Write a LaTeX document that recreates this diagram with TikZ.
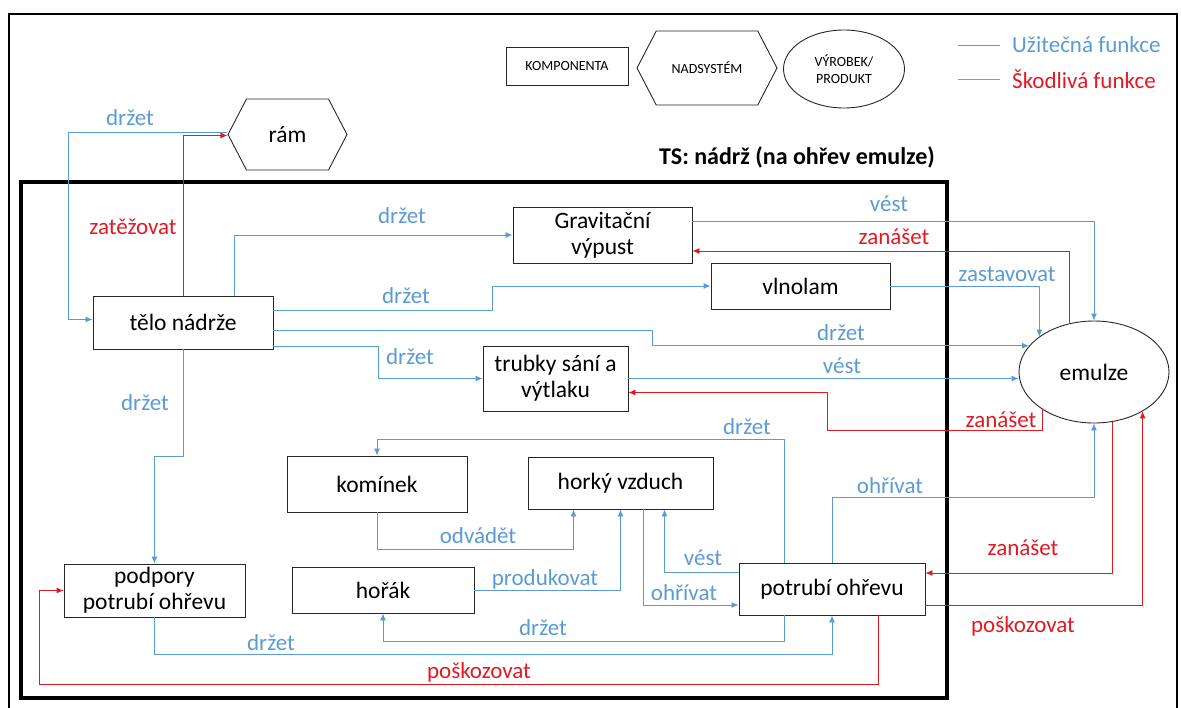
\documentclass[tikz,border=0pt]{standalone}
\usepackage{fontspec}
\setmainfont{Carlito}
\usepackage{tikz}
\usetikzlibrary{arrows.meta,shapes.geometric,shapes.symbols}
\definecolor{ufblue}{RGB}{91,155,213}
\definecolor{sfred}{RGB}{225,25,35}
\definecolor{lgorange}{RGB}{237,125,49}
\newcommand{\boxfont}{\fontsize{23.5}{26}\selectfont}
\newcommand{\lblfont}{\fontsize{23}{26}\selectfont}
\newcommand{\smallfont}{\fontsize{14}{17}\selectfont}

\begin{document}
\begin{tikzpicture}[x=1pt,y=-1pt,
  comp/.style={draw=black!85, line width=.9pt, rectangle, align=center, font=\boxfont, inner sep=0pt},
  nads/.style={draw=black!85, line width=.9pt, shape=signal, signal to=west and east, signal pointer angle=125, inner sep=0pt},
  prod/.style={draw=black!85, line width=.9pt, ellipse, align=center, inner sep=0pt},
  uf/.style={draw=ufblue, line width=.9pt, -{Latex[length=7pt,width=6pt]}},
  sf/.style={draw=sfred, line width=.9pt, -{Latex[length=7pt,width=6pt]}},
  ufl/.style={text=ufblue, font=\lblfont, inner sep=0pt},
  sfl/.style={text=sfred, font=\lblfont, inner sep=0pt}]
\useasboundingbox (0,0) rectangle (1181,707);

% frames
\draw[line width=1.4pt] (9,710) -- (9,14) -- (1177,14) -- (1177,710);
\draw[line width=3.5pt] (21,182) rectangle (947,698);

% legend
\node (lgkomp) at (567,66) [comp, minimum width=122, minimum height=38, font=\smallfont] {KOMPONENTA};
\node (lgnads) at (707,68) [nads, minimum width=140, minimum height=74, font=\smallfont] {NADSYSTÉM};
\node (lgprod) at (844,69) [prod, minimum width=121, minimum height=78, font=\smallfont] {VÝROBEK/\\PRODUKT};
\coordinate (lgu) at (958,45);
\coordinate (lgs) at (958,79);
\draw[ufblue, line width=.9pt] (lgu) -- ++(42,0);
\draw[lgorange, line width=.9pt] (lgs) -- ++(42,0);
\node (lgutext) at (1012,45) [ufl, anchor=west] {Užitečná funkce};
\node (lgstext) at (1012,79) [sfl, anchor=west] {Škodlivá funkce};
\node (ts) at (797,157) [font=\bfseries\fontsize{24}{28}\selectfont] {TS: nádrž (na ohřev emulze)};

% components
\node (ram) at (287.5,134.5) [nads, minimum width=119, minimum height=71, font=\boxfont] {rám};
\node (telo) at (183,322.5) [comp, minimum width=180, minimum height=53] {tělo nádrže};
\node (grav) at (602.5,235) [comp, minimum width=179, minimum height=56] {Gravitační\\výpust};
\node (vlnolam) at (800.5,286) [comp, minimum width=179, minimum height=46] {vlnolam};
\node (trubky) at (555.5,378.5) [comp, minimum width=145, minimum height=65] {trubky sání a\\výtlaku};
\node (emulze) at (1094,372) [prod, minimum width=150, minimum height=102, font=\boxfont] {emulze};
\node (komin) at (377,484) [comp, minimum width=180, minimum height=56] {komínek};
\node (vzduch) at (620.5,483) [comp, minimum width=185, minimum height=52] {horký vzduch};
\node (podpory) at (154.5,590.5) [comp, minimum width=181, minimum height=53] {podpory\\potrubí ohřevu};
\node (horak) at (383,590) [comp, minimum width=182, minimum height=46] {hořák};
\node (potrubi) at (832,589) [comp, minimum width=186, minimum height=52] {potrubí ohřevu};

% useful functions
\draw[uf] ([yshift=2]ram.west) -| ([xshift=-24,yshift=3]telo.west) -- ([yshift=3]telo.west);
\draw[uf] ([xshift=51]telo.north) |- (grav.west);
\draw[uf] ([yshift=12]telo.east) -- ++(219,0) |- (vlnolam.west);
\draw[uf] ([yshift=-8]telo.east) -- ++(379,0) |- (emulze.158);
\draw[uf] ([yshift=-24]telo.east) -- ++(105,0) |- (trubky.west);
\draw[uf] (telo.south) -- ++(0,107) -| (podpory.north);
\draw[uf] ([yshift=14]grav.east) -| (emulze.north);
\draw[uf] (vlnolam.east) -| (emulze.147);
\draw[uf] (trubky.east) -- (trubky.east -| emulze.west);
\draw[uf] ([xshift=-48]potrubi.north) -- ++(0,-123) -| (komin.north);
\draw[uf] (komin.south) -- ++(0,37) -| ([xshift=-47]vzduch.south);
\draw[uf] (horak.east) -| (vzduch.south);
\draw[uf] ([xshift=23]vzduch.south) |- ([yshift=-16]potrubi.west);
\draw[uf] ([yshift=17]potrubi.west) -| ([xshift=44]vzduch.south);
\draw[uf] ([xshift=-48]potrubi.south) -- ++(0,26) -| (horak.south);
\draw[uf] (podpory.south) -- ++(0,37) -| (potrubi.south);
\draw[uf] (potrubi.north) -- ++(0,-65) -| (emulze.south);

% harmful functions
\draw[sf] (telo.north) |- ([yshift=-1]ram.west);
\draw[sf] (emulze.117) |- ([yshift=-16]grav.east);
\draw[sf] (emulze.216) -- ++(0,21) -| ([xshift=199,yshift=-14]trubky.east) -- ([yshift=-14]trubky.east);
\draw[sf] ([xshift=46]potrubi.south) -- ++(0,69) -| ([xshift=-24]podpory.west) -- (podpory.west);
\draw[sf] (emulze.290) |- ([yshift=16]potrubi.east);
\draw[sf] ([yshift=-16]potrubi.east) -| (emulze.321);

% labels
\node (l1) at (130,118) [ufl] {držet};
\node (l2) at (133,227) [sfl] {zatěžovat};
\node (l3) at (402,216) [ufl] {držet};
\node (l4) at (406,296) [ufl] {držet};
\node (l5) at (410,357) [ufl] {držet};
\node (l6) at (145,403) [ufl] {držet};
\node (l7) at (889,204) [ufl] {vést};
\node (l8) at (894,237) [sfl] {zanášet};
\node (l9) at (1007,274) [ufl] {zastavovat};
\node (l10) at (841,333) [ufl] {držet};
\node (l11) at (842,366) [ufl] {vést};
\node (l12) at (1001,420) [sfl] {zanášet};
\node (l13) at (747,427) [ufl] {držet};
\node (l14) at (478,536) [ufl] {odvádět};
\node (l15) at (545,579) [ufl] {produkovat};
\node (l16) at (703,558) [ufl] {vést};
\node (l17) at (684,593) [ufl] {ohřívat};
\node (l18) at (543,628) [ufl] {držet};
\node (l19) at (271,643) [ufl] {držet};
\node (l20) at (479,672) [sfl] {poškozovat};
\node (l21) at (890,486) [ufl] {ohřívat};
\node (l22) at (1023,548) [sfl] {zanášet};
\node (l23) at (1023,626) [sfl] {poškozovat};

\end{tikzpicture}
\end{document}
